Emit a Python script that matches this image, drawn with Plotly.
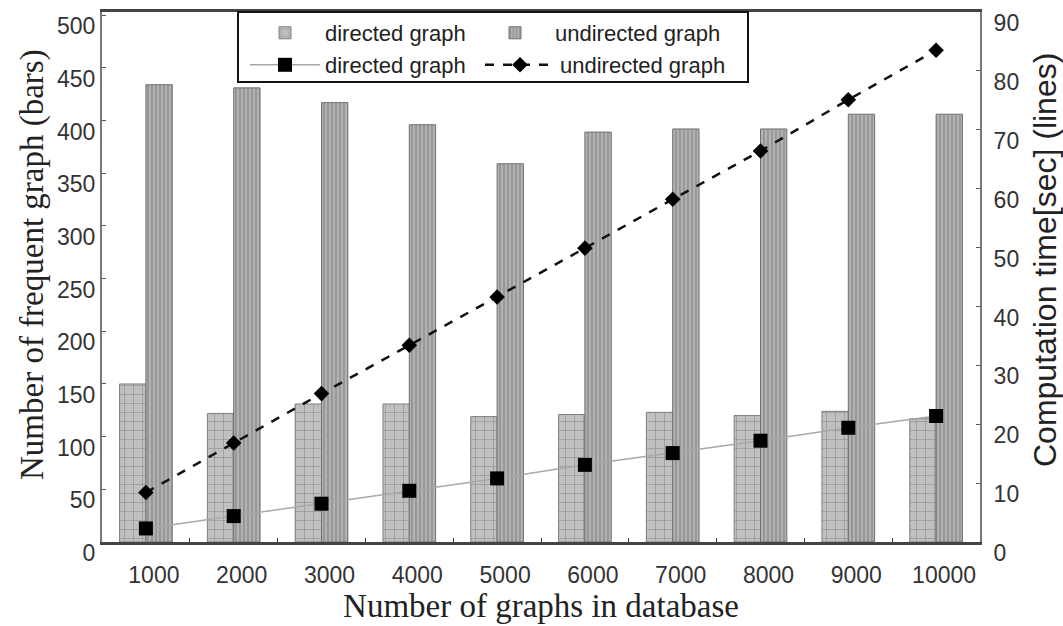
import plotly.graph_objects as go

categories = ["1000", "2000", "3000", "4000", "5000", "6000", "7000", "8000", "9000", "10000"]
freq_directed = [150, 122, 131, 131, 119, 121, 123, 120, 124, 117]
freq_undirected = [434, 431, 417, 396, 359, 389, 392, 392, 406, 406]
time_directed = [2.3, 4.4, 6.5, 8.7, 10.8, 13.1, 15.1, 17.2, 19.4, 21.4]
time_undirected = [8.4, 16.8, 25.2, 33.4, 41.6, 49.9, 58.2, 66.4, 75.1, 83.5]
left_ticks = [0, 50, 100, 150, 200, 250, 300, 350, 400, 450, 500]
right_ticks = [0, 10, 20, 30, 40, 50, 60, 70, 80, 90]

SANS = "Liberation Sans, Arial, sans-serif"
SERIF = "Liberation Serif, Times New Roman, serif"

fig = go.Figure()
fig.add_trace(go.Bar(
    x=categories, y=freq_directed, name="directed graph", legend="legend",
    marker=dict(color="#bcbcbc", line=dict(color="#7f7f7f", width=1),
                pattern=dict(shape="+", size=9, solidity=0.14, fgcolor="#606060", bgcolor="#c0c0c0")),
))
fig.add_trace(go.Bar(
    x=categories, y=freq_undirected, name="undirected graph", legend="legend2",
    marker=dict(color="#adadad", line=dict(color="#707070", width=1),
                pattern=dict(shape="|", size=4, solidity=0.3, fgcolor="#5a5a5a", bgcolor="#b2b2b2")),
))
fig.add_trace(go.Scatter(
    x=categories, y=time_directed, name="directed graph", yaxis="y2", legend="legend3",
    mode="lines+markers",
    line=dict(color="#a8a8a8", width=1.5),
    marker=dict(symbol="square", size=14, color="#000000"),
))
fig.add_trace(go.Scatter(
    x=categories, y=time_undirected, name="undirected graph", yaxis="y2", legend="legend4",
    mode="lines+markers",
    line=dict(color="#111111", width=2.5, dash="dash"),
    marker=dict(symbol="diamond", size=12, color="#000000"),
))

W, H = 1063, 626
L, R, T, B = 102, 83, 12, 84
pw, ph = W - L - R, H - T - B

def px_x(x):
    return (x - L) / pw

def px_y(y):
    return (H - B - y) / ph

legend_common = dict(
    orientation="h", xanchor="left", yanchor="middle",
    font=dict(family=SANS, size=22, color="#222222"),
    bgcolor="rgba(0,0,0,0)", borderwidth=0,
    itemwidth=70,
)

fig.update_layout(
    width=W, height=H,
    margin=dict(l=L, r=R, t=T, b=B, pad=0, autoexpand=False),
    paper_bgcolor="white", plot_bgcolor="white",
    barmode="group", bargap=0.40, bargroupgap=0.0,
    showlegend=True,
    legend=dict(x=px_x(245), y=px_y(33), **legend_common),
    legend2=dict(x=px_x(475), y=px_y(33), **legend_common),
    legend3=dict(x=px_x(245), y=px_y(65), **legend_common),
    legend4=dict(x=px_x(480), y=px_y(65), **legend_common),
    xaxis=dict(
        type="category", categoryorder="array", categoryarray=categories,
        range=[-0.5, len(categories) - 0.5],
        automargin=False,
        tickson="boundaries", ticks="inside", ticklen=4, tickcolor="#333",
        showline=True, linecolor="#444", linewidth=3, mirror=True,
        showgrid=False, zeroline=False,
        tickfont=dict(family=SANS, size=23, color="#333333"),
        ticklabelshift=8, ticklabelstandoff=10,
        title=dict(text="Number of graphs in database", standoff=4,
                   font=dict(family=SERIF, size=33, color="#222222")),
    ),
    yaxis=dict(
        range=[0, 503], tickvals=left_ticks, ticks="inside", ticklen=4, tickcolor="#555",
        automargin=False,
        showline=True, linecolor="#777", linewidth=2,
        showgrid=False, zeroline=False,
        tickfont=dict(family=SANS, size=23, color="#333333"),
        ticklabelshift=11, ticklabelstandoff=0,
    ),
    yaxis2=dict(
        range=[0, 90], tickvals=right_ticks, overlaying="y", side="right",
        automargin=False,
        ticks="inside", ticklen=4, tickcolor="#555",
        showline=True, linecolor="#777", linewidth=2,
        showgrid=False, zeroline=False,
        tickfont=dict(family=SANS, size=23, color="#333333"),
        ticklabelshift=11, ticklabelstandoff=7,
    ),
    annotations=[
        dict(text="Number of frequent graph (bars)", xref="paper", yref="paper",
             x=px_x(32), y=px_y(265), textangle=-90, showarrow=False,
             xanchor="center", yanchor="middle",
             font=dict(family=SERIF, size=33, color="#222222")),
        dict(text="Computation time[sec] (lines)", xref="paper", yref="paper",
             x=px_x(1045), y=px_y(260), textangle=-90, showarrow=False,
             xanchor="center", yanchor="middle",
             font=dict(family=SANS, size=32, color="#222222")),
    ],
    shapes=[dict(
        type="rect", xref="paper", yref="paper",
        x0=px_x(238), x1=px_x(748), y0=px_y(82), y1=1.0,
        line=dict(color="#111111", width=2), fillcolor="white", layer="above",
    )],
)

fig.write_html("out.html")
